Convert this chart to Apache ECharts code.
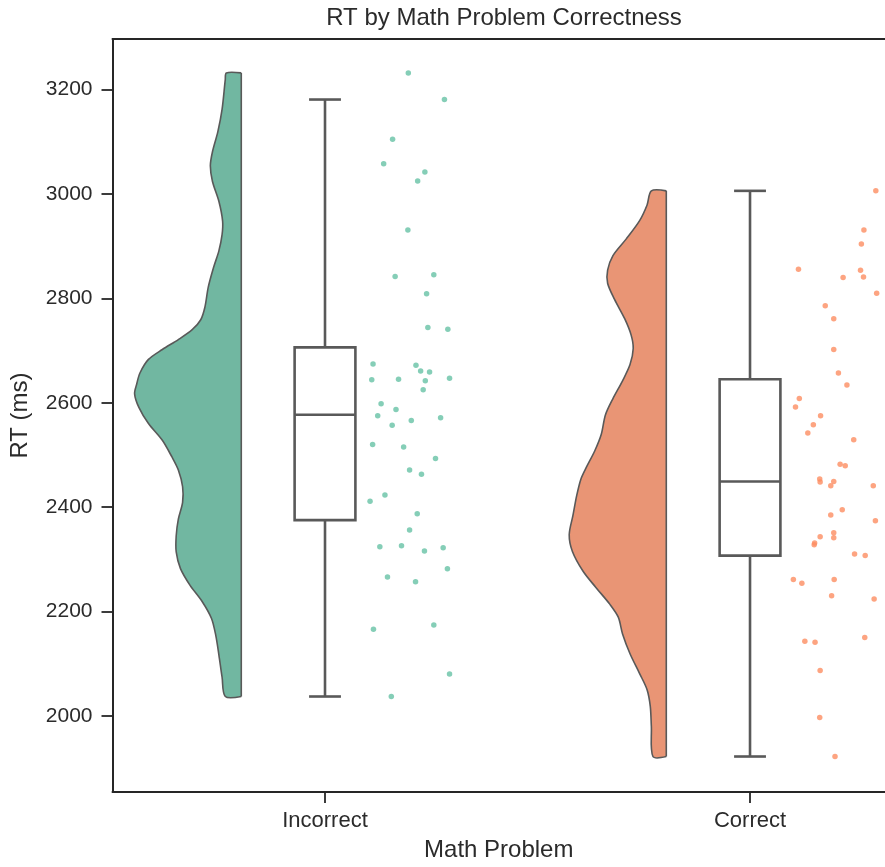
<!DOCTYPE html>
<html>
<head>
<meta charset="utf-8">
<script src="https://cdn.jsdelivr.net/npm/echarts@6/dist/echarts.min.js"></script>
<style>
  html, body { margin: 0; padding: 0; background: #ffffff; }
  #chart { width: 885px; height: 867px; }
</style>
</head>
<body>
<div id="chart"></div>
<script>
// ---- data ----
const categories = ['Incorrect', 'Correct'];
const yTicks = [2000, 2200, 2400, 2600, 2800, 3000, 3200];

// reaction time of every trial (ms) and its horizontal jitter in the strip
const incorrectRT = [3232, 3181, 3105, 3058, 3042, 3025, 2931, 2842, 2845, 2809, 2744, 2741,
  2674, 2672, 2661, 2659, 2644, 2645, 2642, 2647, 2625, 2598, 2587, 2575, 2566, 2571, 2557,
  2520, 2515, 2493, 2471, 2463, 2423, 2411, 2387, 2356, 2324, 2326, 2316, 2322, 2282, 2266,
  2257, 2166, 2174, 2080, 2037];
const incorrectJitter = [0.196, 0.281, 0.159, 0.138, 0.235, 0.218, 0.195, 0.165, 0.256, 0.239,
  0.242, 0.289, 0.113, 0.214, 0.225, 0.246, 0.110, 0.173, 0.236, 0.293, 0.231, 0.132, 0.167,
  0.124, 0.203, 0.272, 0.158, 0.112, 0.185, 0.260, 0.199, 0.227, 0.141, 0.106, 0.217, 0.199,
  0.129, 0.180, 0.234, 0.278, 0.288, 0.147, 0.213, 0.114, 0.256, 0.293, 0.156];

const correctRT = [3006, 2931, 2904, 2856, 2840, 2854, 2841, 2810, 2786, 2761, 2702, 2657,
  2634, 2608, 2592, 2575, 2558, 2542, 2529, 2482, 2479, 2454, 2448, 2449, 2441, 2441, 2395,
  2385, 2374, 2351, 2341, 2343, 2331, 2328, 2310, 2307, 2261, 2254, 2261, 2230, 2224, 2143,
  2141, 2150, 2087, 1997, 1922];
const correctJitter = [0.296, 0.268, 0.262, 0.114, 0.219, 0.260, 0.267, 0.298, 0.177, 0.197,
  0.197, 0.208, 0.228, 0.116, 0.107, 0.166, 0.149, 0.136, 0.244, 0.212, 0.224, 0.164, 0.165,
  0.197, 0.190, 0.290, 0.217, 0.190, 0.295, 0.197, 0.197, 0.165, 0.152, 0.151, 0.246, 0.271,
  0.102, 0.122, 0.198, 0.192, 0.292, 0.129, 0.153, 0.270, 0.165, 0.164, 0.200];

// box summaries: [lower whisker, Q1, median, Q3, upper whisker]
const incorrectBox = [2037, 2375, 2577, 2706, 3181];
const correctBox = [1922, 2307, 2449, 2645, 3006];

// half-violin density profiles (relative density at each RT)
const incorrectViolinRT = [3232, 3219, 3162, 3119, 3081, 3054, 3024, 2986, 2948, 2922, 2891,
  2859, 2821, 2784, 2759, 2740, 2721, 2702, 2683, 2657, 2636, 2617, 2591, 2560, 2528, 2496,
  2471, 2439, 2409, 2377, 2345, 2314, 2282, 2250, 2220, 2187, 2155, 2117, 2074, 2037];
const incorrectViolinDensity = [0.14, 0.15, 0.18, 0.22, 0.27, 0.29, 0.27, 0.21, 0.175, 0.18,
  0.21, 0.26, 0.31, 0.34, 0.38, 0.46, 0.59, 0.74, 0.87, 0.95, 0.98, 1.00, 0.96, 0.87, 0.74,
  0.65, 0.59, 0.55, 0.55, 0.59, 0.61, 0.61, 0.57, 0.48, 0.37, 0.28, 0.24, 0.21, 0.18, 0.15];

const correctViolinRT = [3006, 2979, 2949, 2914, 2882, 2854, 2829, 2798, 2761, 2730, 2704,
  2673, 2642, 2608, 2577, 2539, 2508, 2476, 2454, 2422, 2384, 2347, 2315, 2277, 2246, 2214,
  2189, 2157, 2119, 2081, 2050, 2018, 1980, 1922];
const correctViolinDensity = [0.14, 0.18, 0.25, 0.375, 0.50, 0.55, 0.55, 0.485, 0.39, 0.33,
  0.31, 0.34, 0.41, 0.50, 0.57, 0.61, 0.67, 0.75, 0.80, 0.84, 0.875, 0.91, 0.88, 0.78, 0.66,
  0.53, 0.45, 0.41, 0.34, 0.25, 0.18, 0.15, 0.14, 0.125];

// ---- layout / style constants ----
const VIOLIN_EDGE = -0.197;   // flat side of the half violin, relative to category
const VIOLIN_SCALE = 0.251;   // half width at density 1 (category units)
const BOX_WIDTH = 0.143;
const CAP_WIDTH = 0.075;
const FONT = "'Liberation Sans', Arial, Helvetica, sans-serif";
const TEXT = '#2b2b2b';
const AXIS = '#262626';
const GREY = '#595959';
const violinFill = ['#71b7a1', '#e99575'];
const pointColor = ['#66c2a5', '#fc8d62'];

const violins = [
  { rt: incorrectViolinRT, density: incorrectViolinDensity },
  { rt: correctViolinRT, density: correctViolinDensity }
];
const boxes = [incorrectBox, correctBox];

function violinItem(params, api) {
  const c = api.value(0);
  const prof = violins[c];
  const edge = c + VIOLIN_EDGE;
  const n = prof.rt.length;
  const pts = [api.coord([edge, prof.rt[0]])];
  for (let i = 0; i < n; i++) {
    pts.push(api.coord([edge - prof.density[i] * VIOLIN_SCALE, prof.rt[i]]));
  }
  pts.push(api.coord([edge, prof.rt[n - 1]]));
  return {
    type: 'group',
    children: [
      {
        type: 'polyline',
        shape: { points: pts, smooth: 0.3 },
        style: { fill: violinFill[c], stroke: GREY, lineWidth: 1.6 }
      },
      {
        type: 'line',
        shape: { x1: pts[0][0], y1: pts[0][1], x2: pts[n + 1][0], y2: pts[n + 1][1] },
        style: { stroke: GREY, lineWidth: 1.6 }
      }
    ]
  };
}

function boxItem(params, api) {
  const c = api.value(0);
  const b = boxes[c];
  const h = BOX_WIDTH / 2, k = CAP_WIDTH / 2;
  const p = (x, y) => api.coord([x, y]);
  const tl = p(c - h, b[3]), br = p(c + h, b[1]);
  const style = { stroke: GREY, lineWidth: 2.6, fill: null };
  const seg = (a, z) => ({ type: 'line', shape: { x1: a[0], y1: a[1], x2: z[0], y2: z[1] }, style: style });
  return {
    type: 'group',
    children: [
      seg(p(c, b[3]), p(c, b[4])),
      seg(p(c, b[1]), p(c, b[0])),
      seg(p(c - k, b[4]), p(c + k, b[4])),
      seg(p(c - k, b[0]), p(c + k, b[0])),
      {
        type: 'rect',
        shape: { x: tl[0], y: tl[1], width: br[0] - tl[0], height: br[1] - tl[1] },
        style: { stroke: GREY, lineWidth: 2.6, fill: '#ffffff' }
      },
      seg(p(c - h, b[2]), p(c + h, b[2]))
    ]
  };
}

const chart = echarts.init(document.getElementById('chart'), null, { renderer: 'canvas' });

chart.setOption({
  backgroundColor: '#ffffff',
  animation: false,
  title: {
    text: 'RT by Math Problem Correctness',
    left: 504,
    top: 6,
    padding: 0,
    textAlign: 'center',
    textStyle: { fontFamily: FONT, fontSize: 24, fontWeight: 'normal', color: TEXT }
  },
  grid: { left: 112.5, right: 0, top: 39, bottom: 67, containLabel: false },
  xAxis: [
    {
      type: 'value',
      min: -0.5,
      max: 1.3176,
      position: 'bottom',
      name: 'Math Problem',
      nameLocation: 'middle',
      nameGap: 46,
      nameTextStyle: { fontFamily: FONT, fontSize: 24, color: TEXT },
      axisLine: { show: true, onZero: false, lineStyle: { color: AXIS, width: 2 } },
      axisTick: { show: true, length: 11, customValues: [0, 1], lineStyle: { color: AXIS, width: 1.8 } },
      axisLabel: {
        customValues: [0, 1],
        formatter: (v) => categories[Math.round(v)],
        fontFamily: FONT, fontSize: 22, color: TEXT, margin: 18
      },
      splitLine: { show: false }
    },
    {
      type: 'value',
      min: -0.5,
      max: 1.3176,
      position: 'top',
      axisLine: { show: true, onZero: false, lineStyle: { color: AXIS, width: 2 } },
      axisTick: { show: false },
      axisLabel: { show: false },
      splitLine: { show: false }
    }
  ],
  yAxis: {
    type: 'value',
    min: 1854,
    max: 3297,
    name: 'RT (ms)',
    nameLocation: 'middle',
    nameGap: 80,
    nameRotate: 90,
    nameTextStyle: { fontFamily: FONT, fontSize: 24, color: TEXT },
    axisLine: { show: true, onZero: false, lineStyle: { color: AXIS, width: 2 } },
    axisTick: { show: true, length: 11, customValues: yTicks, lineStyle: { color: AXIS, width: 1.8 } },
    axisLabel: {
      customValues: yTicks,
      formatter: (v) => String(v),
      fontFamily: FONT, fontSize: 21, color: TEXT, margin: 20
    },
    splitLine: { show: false }
  },
  series: [
    {
      type: 'custom',
      name: 'violin',
      xAxisIndex: 0,
      renderItem: violinItem,
      data: [[0, 2600], [1, 2600]],
      z: 2
    },
    {
      type: 'custom',
      name: 'box',
      xAxisIndex: 0,
      renderItem: boxItem,
      data: [[0, 2600], [1, 2600]],
      z: 3
    },
    {
      type: 'scatter',
      name: categories[0],
      xAxisIndex: 0,
      symbol: 'circle',
      symbolSize: 5.5,
      itemStyle: { color: pointColor[0] },
      data: incorrectRT.map((v, i) => [0 + incorrectJitter[i], v]),
      z: 4
    },
    {
      type: 'scatter',
      name: categories[1],
      xAxisIndex: 0,
      symbol: 'circle',
      symbolSize: 5.5,
      itemStyle: { color: pointColor[1] },
      data: correctRT.map((v, i) => [1 + correctJitter[i], v]),
      z: 4
    }
  ]
});
</script>
</body>
</html>
